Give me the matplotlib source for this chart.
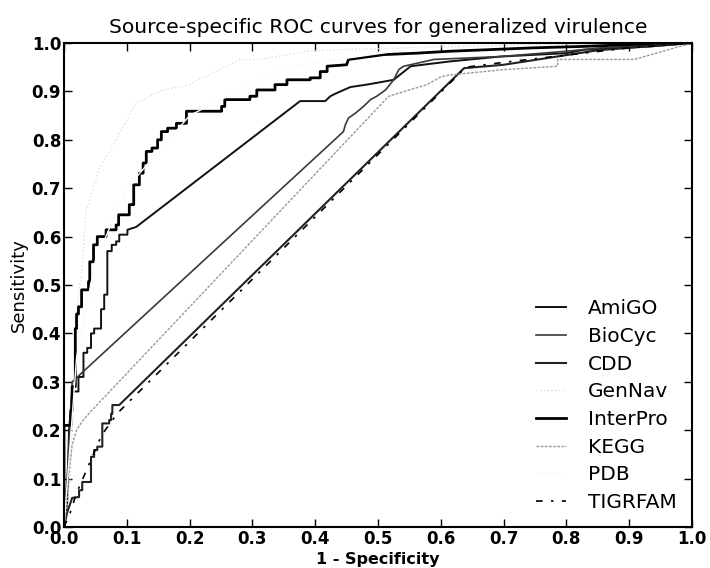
import matplotlib
matplotlib.use("Agg")
import matplotlib.pyplot as plt

labels = ["AmiGO", "BioCyc", "CDD", "GenNav", "InterPro", "KEGG", "PDB", "TIGRFAM"]

amigo_x = [0, 0.005, 0.008, 0.013, 0.023, 0.023, 0.031, 0.031, 0.037, 0.037, 0.043, 0.043, 0.048, 0.048,
           0.059, 0.059, 0.064, 0.064, 0.069, 0.069, 0.076, 0.076, 0.083, 0.083, 0.088, 0.088, 0.101, 0.101,
           0.115, 0.376, 0.416, 0.424, 0.435, 0.456, 0.482, 0.504, 0.525, 0.552, 0.615, 0.695, 0.8, 0.828,
           0.935, 1.0]
amigo_y = [0, 0.05, 0.2, 0.28, 0.28, 0.31, 0.31, 0.36, 0.36, 0.37, 0.37, 0.40, 0.40, 0.41,
           0.41, 0.45, 0.45, 0.48, 0.48, 0.57, 0.57, 0.583, 0.583, 0.59, 0.59, 0.604, 0.604, 0.614,
           0.62, 0.88, 0.88, 0.89, 0.897, 0.909, 0.914, 0.919, 0.924, 0.952, 0.962, 0.972, 0.979, 0.986,
           0.993, 1.0]

biocyc_x = [0, 0.005, 0.01, 0.013, 0.445, 0.448, 0.453, 0.464, 0.477, 0.488, 0.498, 0.512, 0.525, 0.533,
            0.541, 0.589, 0.695, 0.8, 0.855, 0.961, 1.0]
biocyc_y = [0, 0.1, 0.22, 0.3, 0.817, 0.831, 0.845, 0.855, 0.869, 0.883, 0.89, 0.903, 0.924, 0.945,
            0.952, 0.966, 0.972, 0.983, 0.99, 0.997, 1.0]

cdd_x = [0, 0.005, 0.013, 0.024, 0.024, 0.029, 0.029, 0.043, 0.043, 0.048, 0.048, 0.053, 0.053, 0.061,
         0.061, 0.072, 0.072, 0.075, 0.075, 0.077, 0.077, 0.088, 0.637, 0.7, 0.75, 0.8, 0.85, 0.9, 0.95, 1.0]
cdd_y = [0, 0.03, 0.06, 0.062, 0.076, 0.076, 0.093, 0.093, 0.145, 0.145, 0.159, 0.159, 0.166, 0.166,
         0.214, 0.214, 0.221, 0.221, 0.234, 0.234, 0.252, 0.252, 0.948, 0.955, 0.965, 0.975, 0.985, 0.99,
         0.995, 1.0]

gennav_x = [0, 0.01, 0.016, 0.019, 0.025, 0.029, 0.035, 0.056, 0.091, 0.115, 0.141, 0.157, 0.195, 0.248,
            0.28, 0.312, 0.387, 0.43, 0.55, 0.7, 0.85, 1.0]
gennav_y = [0, 0.1, 0.3, 0.43, 0.5, 0.54, 0.65, 0.74, 0.82, 0.876, 0.893, 0.903, 0.912, 0.945,
            0.966, 0.966, 0.983, 0.986, 0.99, 0.995, 0.998, 1.0]

interpro_x = [0, 0, 0.011, 0.011, 0.013, 0.013, 0.018, 0.018, 0.02, 0.02, 0.023, 0.023, 0.028, 0.028,
              0.039, 0.039, 0.041, 0.041, 0.047, 0.047, 0.053, 0.053, 0.067, 0.067, 0.083, 0.083, 0.087,
              0.087, 0.104, 0.104, 0.111, 0.111, 0.12, 0.12, 0.126, 0.126, 0.131, 0.131, 0.14, 0.14, 0.149,
              0.149, 0.155, 0.155, 0.165, 0.165, 0.179, 0.179, 0.195, 0.195, 0.251, 0.251, 0.256, 0.256,
              0.296, 0.296, 0.307, 0.307, 0.336, 0.336, 0.355, 0.355, 0.392, 0.392, 0.408, 0.408, 0.419,
              0.419, 0.45, 0.453, 0.509, 0.562, 0.615, 0.748, 0.828, 0.908, 0.948, 1.0]
interpro_y = [0, 0.21, 0.21, 0.24, 0.24, 0.29, 0.29, 0.41, 0.41, 0.44, 0.44, 0.455, 0.455, 0.49,
              0.49, 0.507, 0.507, 0.548, 0.548, 0.583, 0.583, 0.6, 0.6, 0.614, 0.614, 0.624, 0.624,
              0.645, 0.645, 0.666, 0.666, 0.707, 0.707, 0.731, 0.731, 0.752, 0.752, 0.776, 0.776, 0.783,
              0.783, 0.8, 0.8, 0.817, 0.817, 0.824, 0.824, 0.834, 0.834, 0.859, 0.859, 0.869, 0.869, 0.883,
              0.883, 0.89, 0.89, 0.903, 0.903, 0.914, 0.914, 0.924, 0.924, 0.928, 0.928, 0.941, 0.941,
              0.952, 0.955, 0.966, 0.976, 0.979, 0.983, 0.99, 0.993, 0.997, 1.0, 1.0]

kegg_x = [0, 0.005, 0.013, 0.02, 0.03, 0.04, 0.517, 0.578, 0.6, 0.615, 0.7, 0.786, 0.786, 0.908, 1.0]
kegg_y = [0, 0.08, 0.17, 0.2, 0.22, 0.235, 0.89, 0.914, 0.93, 0.934, 0.945, 0.952, 0.966, 0.966, 1.0]

pdb_x = [0, 0.02, 0.05, 0.1, 0.2, 0.35, 0.62, 1.0]
pdb_y = [0, 0.35, 0.55, 0.7, 0.85, 0.95, 1.0, 1.0]

tigrfam_x = [0, 0.01, 0.02, 0.04, 0.06, 0.085, 0.64, 0.7, 0.8, 0.9, 1.0]
tigrfam_y = [0, 0.03, 0.07, 0.13, 0.19, 0.235, 0.95, 0.96, 0.975, 0.99, 1.0]

xticks = [0.0, 0.1, 0.2, 0.3, 0.4, 0.5, 0.6, 0.7, 0.8, 0.9, 1.0]
yticks = [0.0, 0.1, 0.2, 0.3, 0.4, 0.5, 0.6, 0.7, 0.8, 0.9, 1.0]

series = [
    (amigo_x, amigo_y, dict(color="#111111", lw=1.4, ls="-")),
    (biocyc_x, biocyc_y, dict(color="#3a3a3a", lw=1.2, ls="-")),
    (cdd_x, cdd_y, dict(color="#222222", lw=1.5, ls="-")),
    (gennav_x, gennav_y, dict(color="#e0e0e0", lw=1.0, ls=":")),
    (interpro_x, interpro_y, dict(color="#000000", lw=2.0, ls="-")),
    (kegg_x, kegg_y, dict(color="#9a9a9a", lw=1.0, ls=(0, (2, 1)))),
    (pdb_x, pdb_y, dict(color="#fbfbfb", lw=1.0, ls="-")),
    (tigrfam_x, tigrfam_y, dict(color="#000000", lw=1.2, ls=(0, (4, 5, 1.5, 5)))),
]

fig = plt.figure(figsize=(7.1, 5.68), dpi=100)
ax = fig.add_axes([64 / 710, (568 - 527) / 568, 628 / 710, 484 / 568])

for (x, y, st), lab in zip(series, labels):
    ax.plot(x, y, label=lab, **st)

ax.set_xlim(0, 1)
ax.set_ylim(0, 1)
ax.set_xticks(xticks)
ax.set_yticks(yticks)
ax.set_xticklabels([f"{t:.1f}" for t in xticks], fontsize=12, fontweight="bold")
ax.set_yticklabels([f"{t:.1f}" for t in yticks], fontsize=12, fontweight="bold")
ax.tick_params(direction="in", top=True, right=True, length=6, width=1, pad=2)
for s in ax.spines.values():
    s.set_linewidth(1.5)

ax.set_xlabel("1 - Specificity", fontsize=11.5, fontweight="bold", labelpad=3)
ax.set_ylabel("Sensitivity", fontsize=13, labelpad=3)
ax.set_title("Source-specific ROC curves for generalized virulence", fontsize=14.6, pad=7)

leg = ax.legend(loc="lower right", frameon=False, fontsize=14.5, handlelength=1.5,
                handletextpad=1.1, labelspacing=0.43, borderaxespad=0.0,
                bbox_to_anchor=(0.989, 0.0145))

fig.savefig("out.png", dpi=100)
